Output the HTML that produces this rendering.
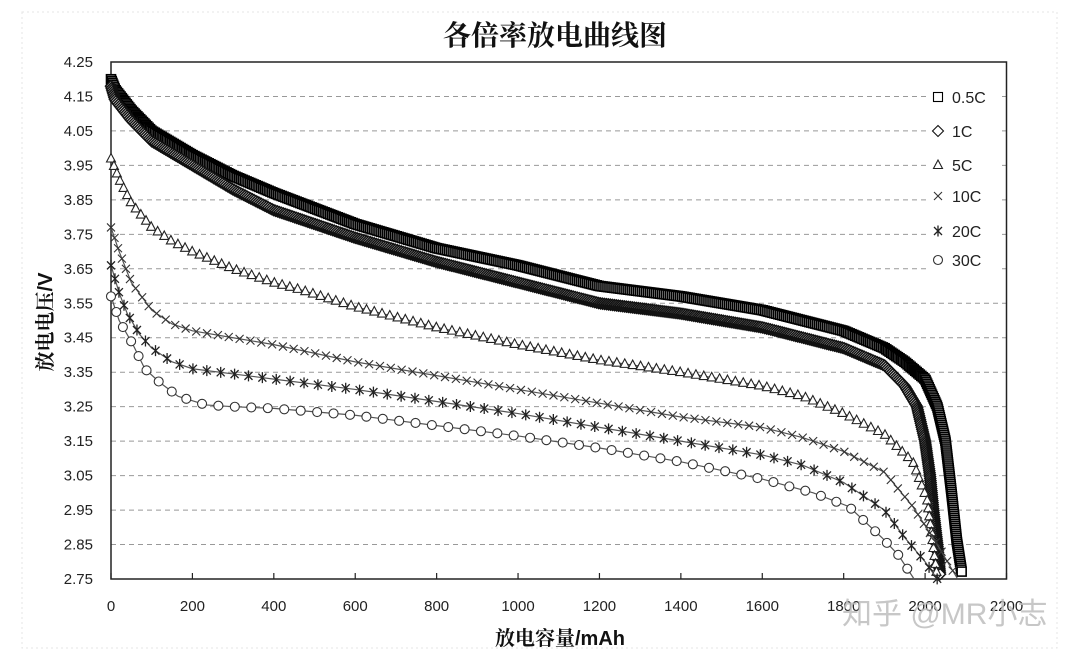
<!DOCTYPE html>
<html><head><meta charset="utf-8"><style>
html,body{margin:0;padding:0;background:#fff;}
svg{display:block;font-family:"Liberation Sans","Noto Sans CJK SC",sans-serif;}
</style></head><body>
<svg id="chart" width="1079" height="657" viewBox="0 0 1079 657">
<rect x="0" y="0" width="1079" height="657" fill="#fff"/>
<rect x="22" y="12" width="1035" height="636" fill="none" stroke="#e4e4e4" stroke-dasharray="2,3"/>
<text x="555" y="45" text-anchor="middle" font-size="28" font-family="'Noto Serif CJK SC','Liberation Serif',serif" font-weight="bold" fill="#111">各倍率放电曲线图</text>
<g id="grid"></g>
<g id="axes"></g>
<g id="series"></g>
<g id="legend"></g>
<text x="560" y="645" text-anchor="middle" font-size="20" font-weight="bold" fill="#111" font-family="'Liberation Sans','Noto Serif CJK SC',serif">放电容量/mAh</text>
<text transform="translate(52,322) rotate(-90)" text-anchor="middle" font-size="20" font-weight="bold" fill="#111" font-family="'Liberation Sans','Noto Serif CJK SC',serif">放电电压/V</text>
<text x="842" y="624" font-size="30" fill="#bdbdbd" fill-opacity="0.85" font-family="'Liberation Sans','Noto Sans CJK SC',sans-serif">知乎 @MR小志</text>
</svg>
<script>
const xTicks=[0,200,400,600,800,1000,1200,1400,1600,1800,2000,2200];
const yTicks=[2.75,2.85,2.95,3.05,3.15,3.25,3.35,3.45,3.55,3.65,3.75,3.85,3.95,4.05,4.15,4.25];
const seriesNames=["0.5C","1C","5C","10C","20C","30C"];
const cap05=[0,10,50,100,200,300,400,600,800,1000,1200,1400,1600,1800,1900,1950,2000,2030,2050,2065,2078,2090];
const v05=[4.20,4.17,4.11,4.05,3.98,3.92,3.87,3.78,3.71,3.66,3.60,3.57,3.53,3.47,3.42,3.38,3.33,3.25,3.15,3.00,2.86,2.77];
const cap1=[0,10,50,100,200,300,400,600,800,1000,1200,1400,1600,1800,1900,1950,1980,2000,2012,2020,2030,2037];
const v1=[4.18,4.14,4.08,4.02,3.95,3.88,3.82,3.74,3.67,3.61,3.55,3.52,3.48,3.42,3.37,3.31,3.25,3.15,3.05,2.95,2.85,2.76];
const cap5=[0,20,50,100,150,200,300,400,464,600,800,1000,1200,1400,1600,1700,1800,1900,1970,2005,2025,2030];
const v5=[3.97,3.91,3.84,3.77,3.73,3.70,3.65,3.61,3.59,3.54,3.48,3.43,3.385,3.35,3.31,3.28,3.23,3.17,3.09,2.98,2.80,2.75];
const cap10=[0,20,50,100,150,200,300,400,600,800,1000,1200,1400,1600,1700,1800,1900,1970,2030,2080];
const v10=[3.77,3.70,3.61,3.53,3.49,3.47,3.45,3.43,3.38,3.34,3.30,3.26,3.22,3.19,3.16,3.12,3.06,2.96,2.85,2.75];
const cap20=[0,20,40,70,100,150,200,300,400,600,800,1000,1200,1400,1600,1700,1800,1900,1950,2000,2030];
const v20=[3.66,3.58,3.52,3.46,3.42,3.38,3.36,3.345,3.33,3.30,3.265,3.23,3.19,3.15,3.11,3.08,3.03,2.95,2.87,2.80,2.75];
const cap30=[0,20,54,83,120,165,233,300,400,600,800,1000,1200,1400,1600,1725,1813,1894,1934,1973];
const v30=[3.57,3.50,3.43,3.36,3.32,3.28,3.255,3.25,3.245,3.225,3.195,3.165,3.13,3.09,3.04,3.00,2.96,2.87,2.82,2.75];
const legendLabels=["0.5C","1C","5C","10C","20C","30C"];

const NS="http://www.w3.org/2000/svg";
const X0=111,X1=1006.5,Y0=579,Y1=62;
function xs(v){return X0+(v-0)/(2200-0)*(X1-X0);}
function ys(v){return Y0-(v-2.75)/(4.25-2.75)*(Y0-Y1);}
function mk(tag,attrs,parent){const e=document.createElementNS(NS,tag);for(const k in attrs)e.setAttribute(k,attrs[k]);parent.appendChild(e);return e;}
const grid=document.getElementById('grid'),axes=document.getElementById('axes'),ser=document.getElementById('series'),leg=document.getElementById('legend');

yTicks.forEach(t=>{
  const y=ys(t);
  if(t>2.76&&t<4.24){const g=mk('line',{x1:X0,x2:X1,y1:y,y2:y,stroke:'#999','stroke-dasharray':'5,4','stroke-width':1},grid);
  
  }
  const tx=mk('text',{x:93,y:y+5,'text-anchor':'end','font-size':15,fill:'#222'},axes);
  tx.textContent=t.toFixed(2);
  
  
});
xTicks.forEach(t=>{
  const x=xs(t);
  const tk=mk('line',{x1:x,x2:x,y1:Y0,y2:Y0-6,stroke:'#222','stroke-width':1.2},axes);
  
  
  const tx=mk('text',{x:x,y:611,'text-anchor':'middle','font-size':15,fill:'#222'},axes);
  tx.textContent=String(t);
  
  
});
const frame=mk('rect',{x:X0,y:Y1,width:X1-X0,height:Y0-Y1,fill:'none',stroke:'#222','stroke-width':1.5},axes);



function marker(type,x,y,parent,sw){
  let e;sw=sw||1.1;
  if(type==='sq'){e=mk('rect',{x:x-4.5,y:y-4.5,width:9,height:9,fill:'#fff',stroke:'#000','stroke-width':sw},parent);}
  else if(type==='di'){e=mk('path',{d:`M${x},${y-5.5}L${x+5.5},${y}L${x},${y+5.5}L${x-5.5},${y}Z`,fill:'#fff',stroke:'#111','stroke-width':sw},parent);}
  else if(type==='tr'){e=mk('path',{d:`M${x},${y-5}L${x+4.5},${y+3.5}L${x-4.5},${y+3.5}Z`,fill:'#fff',stroke:'#222','stroke-width':1.1},parent);}
  else if(type==='x'){e=mk('path',{d:`M${x-4},${y-4}L${x+4},${y+4}M${x-4},${y+4}L${x+4},${y-4}`,stroke:'#333','stroke-width':1.1},parent);}
  else if(type==='st'){e=mk('path',{d:`M${x-4},${y-4}L${x+4},${y+4}M${x-4},${y+4}L${x+4},${y-4}M${x},${y-5.5}L${x},${y+5.5}`,stroke:'#222','stroke-width':1.3},parent);}
  else {e=mk('circle',{cx:x,cy:y,r:4.5,fill:'#fff',stroke:'#333','stroke-width':1.1},parent);}
  return e;
}
const defs=[
 {c:cap05,v:v05,m:'sq',sp:2,sw:1.6,name:'series-0-5c'},
 {c:cap1,v:v1,m:'di',sp:2,sw:1.5,name:'series-1c'},
 {c:cap5,v:v5,m:'tr',sp:8,name:'series-5c'},
 {c:cap10,v:v10,m:'x',sp:11,name:'series-10c'},
 {c:cap20,v:v20,m:'st',sp:14,name:'series-20c'},
 {c:cap30,v:v30,m:'ci',sp:16.5,name:'series-30c'}
];
defs.forEach(d=>{
  const g=mk('g',{},ser);
  
  
  const pts=d.c.map((c,i)=>[xs(c),ys(d.v[i])]);
  const ln=mk('polyline',{points:pts.map(p=>p.join(',')).join(' '),fill:'none',stroke:'#555','stroke-width':1.2},g);
  
  
  let acc=0;
  marker(d.m,pts[0][0],pts[0][1],g,d.sw);
  for(let i=1;i<pts.length;i++){
    const dx=pts[i][0]-pts[i-1][0],dy=pts[i][1]-pts[i-1][1],L=Math.hypot(dx,dy);
    let pos=d.sp-acc;
    while(pos<=L){const t=pos/L;const mm=marker(d.m,pts[i-1][0]+dx*t,pts[i-1][1]+dy*t,g,d.sw);
      
      
      pos+=d.sp;}
    acc=(acc+L)%d.sp;
  }
});
const legY=[97,131,165,196,231,260];
const legM=['sq','di','tr','x','st','ci'];
legendLabels.forEach((l,i)=>{
  const g=mk('g',{},leg);
  
  
  mk('rect',{x:928,y:legY[i]-11,width:70,height:22,fill:'#fff'},g);
  marker(legM[i],938,legY[i],g,1.1);
  const t=mk('text',{x:952,y:legY[i]+6,'font-size':16,fill:'#222'},g);
  t.textContent=l;
});
</script>
</body></html>
